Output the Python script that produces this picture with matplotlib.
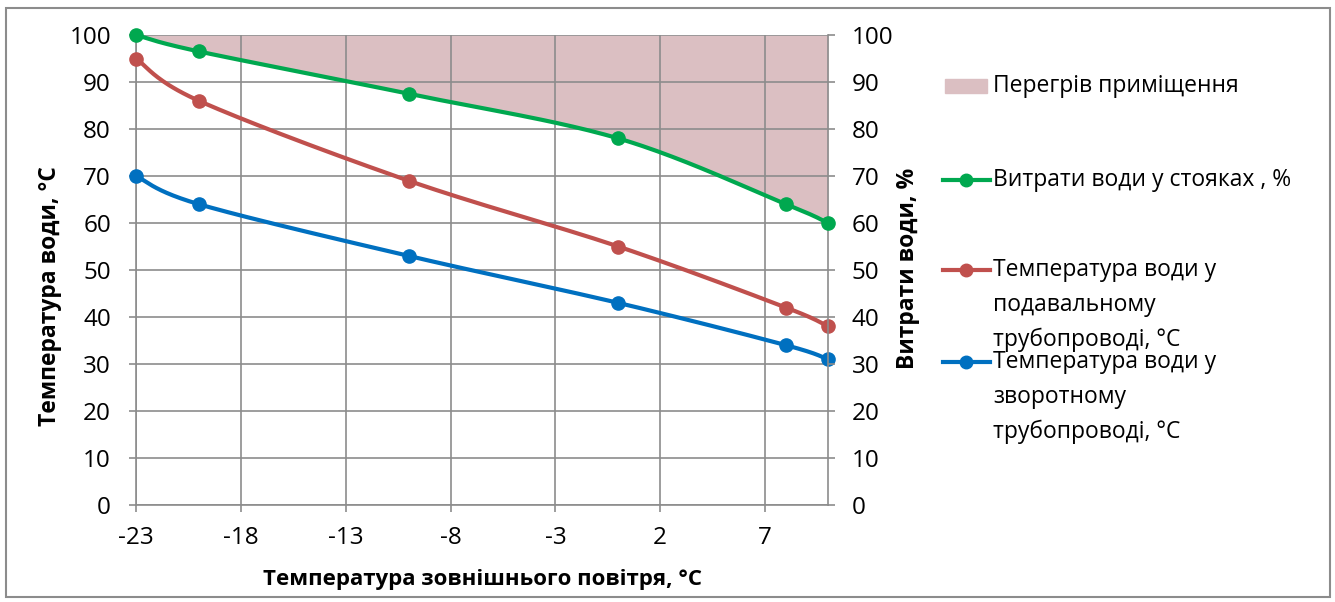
import numpy as np
import matplotlib
matplotlib.use('Agg')
import matplotlib.pyplot as plt
from matplotlib.lines import Line2D
from matplotlib.patches import Rectangle

plt.rcParams['font.family'] = ['Open Sans', 'DejaVu Sans']
plt.rcParams['axes.unicode_minus'] = False

# Data
t_outdoor = [-23, -20, -10, 0, 8, 10]
flow_pct = [100, 96.5, 87.5, 78, 64, 60]
t_supply = [95, 86, 69, 55, 42, 38]
t_return = [70, 64, 53, 43, 34, 31]
x_ticks = [-23, -18, -13, -8, -3, 2, 7]
y_ticks = list(range(0, 101, 10))

label_fill = 'Перегрів приміщення'
label_flow = ['Витрати води у стояках , %']
label_supply = ['Температура води у', 'подавальному', 'трубопроводі, °С']
label_return = ['Температура води у', 'зворотному', 'трубопроводі, °С']

c_green = '#00a84f'
c_red = '#c0504d'
c_blue = '#0070c0'
c_fill = '#dbbfc2'
c_grid = '#8c8c8c'

W, H = 1335, 602
fig = plt.figure(figsize=(W / 100, H / 100), dpi=100)


def fx(px):
    return px / W


def fy(py):
    return 1 - py / H


ax_l, ax_r, ax_t, ax_b = 136, 828, 35, 505
ax1 = fig.add_axes([fx(ax_l), fy(ax_b), fx(ax_r - ax_l), fy(ax_t) - fy(ax_b)])
ax2 = ax1.twinx()

xmin, xmax = -23, 10


def smooth(x, y, n=40):
    # excel-like smoothed line (catmull-rom bezier in screen proportions)
    sx = (np.asarray(x, float) - xmin) / (xmax - xmin) * (ax_r - ax_l)
    sy = np.asarray(y, float) / 100.0 * (ax_b - ax_t)
    P = np.column_stack([sx, sy])
    P = np.vstack([P[0], P, P[-1]])
    out = []
    t = np.linspace(0, 1, n)[:, None]
    for i in range(1, len(P) - 2):
        p0, p1, p2, p3 = P[i - 1], P[i], P[i + 1], P[i + 2]
        c1 = p1 + (p2 - p0) / 6.0
        c2 = p2 - (p3 - p1) / 6.0
        seg = ((1 - t) ** 3) * p1 + 3 * ((1 - t) ** 2) * t * c1 + 3 * (1 - t) * t ** 2 * c2 + t ** 3 * p2
        out.append(seg if i == 1 else seg[1:])
    out = np.vstack(out)
    return out[:, 0] / (ax_r - ax_l) * (xmax - xmin) + xmin, out[:, 1] / (ax_b - ax_t) * 100.0


gx, gy = smooth(t_outdoor, flow_pct)
ax1.fill_between(gx, gy, 100, color=c_fill, zorder=1, linewidth=0)

for yy, col in ((t_supply, c_red), (t_return, c_blue)):
    sx, sy = smooth(t_outdoor, yy)
    ax1.plot(sx, sy, color=col, lw=3, zorder=3, solid_capstyle='round', clip_on=False)
    ax1.plot(t_outdoor, yy, 'o', color=col, ms=9.5, zorder=4, clip_on=False)

ax2.plot(gx, gy, color=c_green, lw=3, zorder=3, solid_capstyle='round', clip_on=False)
ax2.plot(t_outdoor, flow_pct, 'o', color=c_green, ms=9.5, zorder=4, clip_on=False)

for a in (ax1, ax2):
    a.set_xlim(xmin, xmax)
    a.set_ylim(0, 100)
    a.set_yticks(y_ticks)
    for s in a.spines.values():
        s.set_visible(False)
ax2.patch.set_visible(False)

ax1.set_xticks(x_ticks)
ax1.set_axisbelow('line')
ax1.grid(True, color=c_grid, lw=1.2)
ax1.spines['left'].set_visible(True)
ax1.spines['bottom'].set_visible(True)
ax2.spines['right'].set_visible(True)
for a in (ax1, ax2):
    for s in a.spines.values():
        s.set_color(c_grid)
        s.set_linewidth(1.2)
    a.tick_params(colors=c_grid, labelcolor='black', labelsize=17.5, length=5, width=1.2)
ax1.tick_params(axis='y', pad=13)
ax1.tick_params(axis='x', pad=10)
ax2.tick_params(axis='y', pad=12)

fig.text(fx(50), fy(296), 'Температура води, °С', rotation=90, ha='center', va='center',
         fontsize=16.5, fontweight='bold')
fig.text(fx(908), fy(268), 'Витрати води, %', rotation=90, ha='center', va='center',
         fontsize=16.5, fontweight='bold')
fig.text(fx(483), fy(580), 'Температура зовнішнього повітря, °С', ha='center', va='center',
         fontsize=16, fontweight='bold')

# legend drawn by hand
fig.add_artist(Rectangle((fx(945), fy(93)), fx(42), fy(79) - fy(93), color=c_fill,
                         transform=fig.transFigure))
fig.text(fx(993), fy(86), label_fill, va='center', fontsize=16.5)

line_step = 35
for y0, col, lines in ((180, c_green, label_flow), (270, c_red, label_supply), (362, c_blue, label_return)):
    fig.add_artist(Line2D([fx(943), fx(990)], [fy(y0), fy(y0)], color=col, lw=3,
                          transform=fig.transFigure))
    fig.add_artist(Line2D([fx(966)], [fy(y0)], marker='o', ms=9, color=col,
                          transform=fig.transFigure))
    for k, txt in enumerate(lines):
        fig.text(fx(993), fy(y0 + k * line_step), txt, va='center', fontsize=16.5)

fig.add_artist(Rectangle((fx(6), fy(597)), fx(1324), fy(8) - fy(597), fill=False,
                         edgecolor='#8c8c8c', lw=1.5, transform=fig.transFigure))

fig.savefig('out.png', dpi=100)
